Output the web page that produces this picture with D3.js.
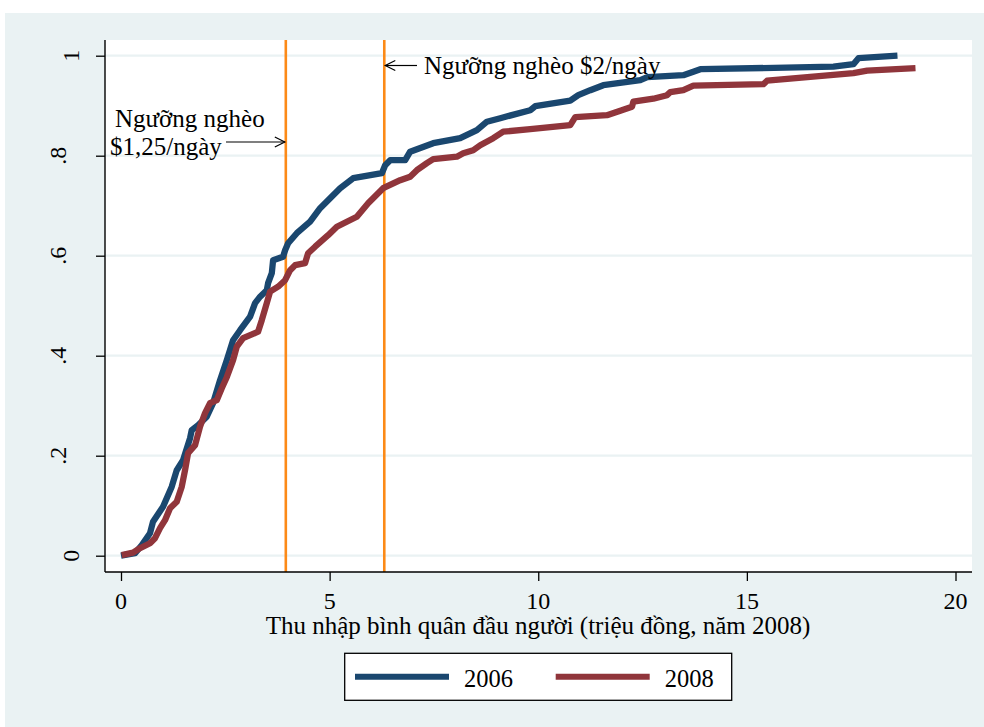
<!DOCTYPE html>
<html><head><meta charset="utf-8">
<script src="https://cdn.jsdelivr.net/npm/d3@7"></script>
<style>
html,body{margin:0;padding:0;background:#fff;}
svg{display:block;}
text{font-family:"Liberation Serif","Times New Roman",serif;fill:#000;}
</style></head>
<body>
<svg id="chart" width="984" height="727"></svg>
<script>
// ---- data ----
const xTicks = [0, 5, 10, 15, 20];
const yTicks = [0, 0.2, 0.4, 0.6, 0.8, 1];
const yTickLabels = ["0", ".2", ".4", ".6", ".8", "1"];
const seriesNames = ["2006", "2008"];
const povertyLines = [3.95, 6.31];
const povertyLabels = ["Ngưỡng nghèo", "$1,25/ngày", "Ngưỡng nghèo $2/ngày"];
const xTitle = "Thu nhập bình quân đầu người (triệu đồng, năm 2008)";

const income2006 = [0,0.336,0.496,0.695,0.767,1.007,1.216,1.336,1.487,1.655,1.695,1.847,2.055,2.206,2.374,2.535,2.686,2.854,3.094,3.213,3.333,3.494,3.525,3.614,3.645,3.885,3.933,4.005,4.213,4.532,4.772,5.012,5.252,5.564,6.252,6.331,6.451,6.811,6.930,7.482,8.129,8.530,8.770,9.089,9.808,9.928,10.767,10.959,11.247,11.559,12.446,12.614,13.477,13.717,13.885,17.074,17.554,17.674,18.609];
const cdf2006 = [0,0.005,0.021,0.045,0.068,0.098,0.138,0.171,0.191,0.235,0.251,0.261,0.278,0.305,0.351,0.391,0.431,0.451,0.478,0.505,0.518,0.531,0.545,0.565,0.591,0.598,0.611,0.625,0.645,0.668,0.695,0.715,0.735,0.755,0.765,0.781,0.791,0.791,0.808,0.825,0.835,0.851,0.868,0.875,0.891,0.899,0.910,0.921,0.931,0.941,0.951,0.957,0.961,0.968,0.973,0.978,0.983,0.995,1.000];

const income2008 = [0.017,0.288,0.456,0.695,0.815,0.935,1.055,1.175,1.336,1.456,1.535,1.607,1.775,1.894,2.014,2.134,2.295,2.415,2.535,2.686,2.775,2.926,3.285,3.374,3.494,3.573,3.765,3.933,4.053,4.173,4.412,4.484,4.652,4.964,5.173,5.652,5.923,6.283,6.691,6.930,7.091,7.331,7.482,8.050,8.201,8.441,8.609,8.921,9.161,9.808,10.767,10.887,11.647,11.966,12.247,12.278,12.758,13.086,13.165,13.477,13.717,15.396,15.484,17.554,17.883,19.041];
const cdf2008 = [0.001,0.006,0.015,0.025,0.035,0.055,0.071,0.095,0.108,0.138,0.171,0.205,0.221,0.258,0.285,0.305,0.311,0.335,0.357,0.391,0.418,0.435,0.448,0.471,0.505,0.528,0.538,0.551,0.571,0.581,0.585,0.605,0.618,0.641,0.658,0.678,0.705,0.735,0.751,0.758,0.771,0.785,0.793,0.798,0.805,0.811,0.821,0.835,0.848,0.853,0.861,0.877,0.881,0.890,0.898,0.908,0.914,0.921,0.927,0.931,0.940,0.943,0.950,0.965,0.970,0.975];

// ---- layout ----
const W = 984, H = 727;
const plot = {left: 105, right: 972, top: 40, bottom: 572};
const colors = {"2006": "#1a476f", "2008": "#90353b"};
const orange = "#fc8a17";
const bg = "#eaf2f3";

const svg = d3.select("#chart");
svg.append("rect").attr("x",0).attr("y",0).attr("width",W).attr("height",H).attr("fill","#fff");
svg.append("rect").attr("x",5).attr("y",13).attr("width",W-5).attr("height",H-13).attr("fill",bg);
svg.append("rect").attr("x",plot.left).attr("y",plot.top)
   .attr("width",plot.right-plot.left).attr("height",plot.bottom-plot.top).attr("fill","#fff");

const x = d3.scaleLinear().domain([0,20]).range([121,955.5]);
const y = d3.scaleLinear().domain([0,1]).range([555.7,55.7]);

// gridlines
svg.append("g").selectAll("line").data(yTicks).join("line")
  .attr("x1",plot.left).attr("x2",plot.right)
  .attr("y1",d=>y(d)).attr("y2",d=>y(d))
  .attr("stroke",bg).attr("stroke-width",2.2);

// vertical poverty lines
svg.append("g").selectAll("line").data(povertyLines).join("line")
  .attr("x1",d=>x(d)).attr("x2",d=>x(d))
  .attr("y1",plot.top).attr("y2",plot.bottom)
  .attr("stroke",orange).attr("stroke-width",2.6);

// curves
const series = [
  {name:"2006", pts: income2006.map((v,i)=>[v, cdf2006[i]])},
  {name:"2008", pts: income2008.map((v,i)=>[v, cdf2008[i]])}
];
const line = d3.line().x(d=>x(d[0])).y(d=>y(d[1]));
series.forEach(s=>{
  svg.append("path").attr("d",line(s.pts)).attr("fill","none")
    .attr("stroke",colors[s.name]).attr("stroke-width",6.3)
    .attr("stroke-linejoin","round").attr("stroke-linecap","butt");
});

// axes
const yAxis = d3.axisLeft(y).tickValues(yTicks).tickSize(9).tickFormat(()=>"");
const gy = svg.append("g").attr("transform",`translate(${plot.left},0)`).call(yAxis);
gy.select(".domain").remove();
gy.selectAll(".tick line").attr("stroke","#000").attr("stroke-width",1.3);
svg.append("line").attr("x1",plot.left).attr("x2",plot.left).attr("y1",plot.top).attr("y2",plot.bottom)
  .attr("stroke","#000").attr("stroke-width",1.4);

yTicks.forEach((t,i)=>{
  const lbl = yTickLabels[i];
  const bx = lbl.startsWith(".") ? 66 : 79;
  svg.append("text").attr("transform",`translate(${bx},${y(t)}) rotate(-90)`)
    .attr("text-anchor","middle").attr("font-size",24).text(lbl);
});

const xAxis = d3.axisBottom(x).tickValues(xTicks).tickSize(9).tickFormat(()=>"");
const gx = svg.append("g").attr("transform",`translate(0,${plot.bottom})`).call(xAxis);
gx.select(".domain").remove();
gx.selectAll(".tick line").attr("stroke","#000").attr("stroke-width",1.3);
svg.append("line").attr("x1",plot.left).attr("x2",plot.right).attr("y1",plot.bottom).attr("y2",plot.bottom)
  .attr("stroke","#000").attr("stroke-width",1.4);
svg.append("g").selectAll("text").data(xTicks).join("text")
  .attr("x",d=>x(d)).attr("y",608.5).attr("text-anchor","middle").attr("font-size",24).text(d=>d);

svg.append("text").attr("x",538).attr("y",634).attr("text-anchor","middle").attr("font-size",25).text(xTitle);

// annotations
function arrow(x1,y1,x2,y2){ // arrowhead at (x2,y2)
  const g = svg.append("g").attr("stroke","#000").attr("stroke-width",1.2).attr("fill","none");
  g.append("line").attr("x1",x1).attr("y1",y1).attr("x2",x2).attr("y2",y2);
  const dir = Math.sign(x2-x1);
  g.append("polyline").attr("points",`${x2-dir*10},${y2-5} ${x2},${y2} ${x2-dir*10},${y2+5}`);
}
svg.append("text").attr("x",115).attr("y",126.5).attr("font-size",25).text(povertyLabels[0]);
svg.append("text").attr("x",110).attr("y",154.5).attr("font-size",25).text(povertyLabels[1]);
arrow(226,142,x(povertyLines[0])-1,142);
svg.append("text").attr("x",424).attr("y",73.5).attr("font-size",25).text(povertyLabels[2]);
arrow(417,65.5,x(povertyLines[1])+1,65.5);

// legend
const lg = svg.append("g");
lg.append("rect").attr("x",344.7).attr("y",653.3).attr("width",387).attr("height",47)
  .attr("fill","#fff").attr("stroke","#000").attr("stroke-width",1.3);
const legX = [355, 555.7];
seriesNames.forEach((n,i)=>{
  lg.append("line").attr("x1",legX[i]).attr("x2",legX[i]+94).attr("y1",676.7).attr("y2",676.7)
    .attr("stroke",colors[n]).attr("stroke-width",6);
  lg.append("text").attr("x",legX[i]+109).attr("y",686.5).attr("font-size",24.5).text(n);
});
</script>
</body></html>
